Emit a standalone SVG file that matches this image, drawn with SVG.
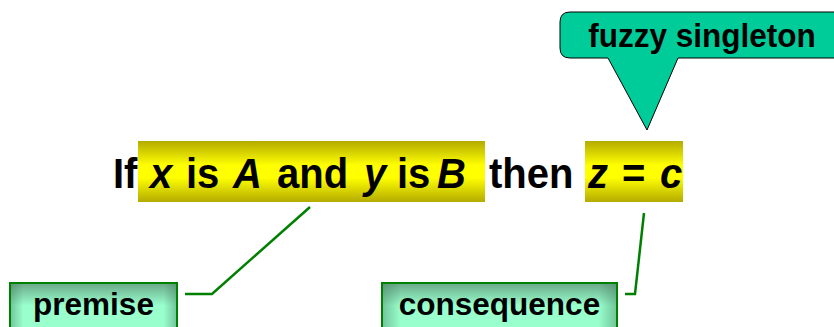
<svg xmlns="http://www.w3.org/2000/svg" width="834" height="327" viewBox="0 0 834 327">
<defs>
<linearGradient id="yel" x1="0" y1="0" x2="0" y2="1">
<stop offset="0" stop-color="#b3ab00"/>
<stop offset="0.4" stop-color="#ffff00"/>
<stop offset="0.6" stop-color="#ffff00"/>
<stop offset="1" stop-color="#b3ab00"/>
</linearGradient>
<linearGradient id="grnV" x1="0" y1="0" x2="0" y2="1">
<stop offset="0" stop-color="#6aa889"/>
<stop offset="0.45" stop-color="#99ffcc"/>
<stop offset="1" stop-color="#99ffcc"/>
</linearGradient>
<linearGradient id="grnH" x1="0" y1="0" x2="1" y2="0">
<stop offset="0" stop-color="#3f7a5c" stop-opacity="0.45"/>
<stop offset="0.08" stop-color="#3f7a5c" stop-opacity="0"/>
<stop offset="0.92" stop-color="#3f7a5c" stop-opacity="0"/>
<stop offset="1" stop-color="#3f7a5c" stop-opacity="0.45"/>
</linearGradient>
</defs>
<style>
text{font-family:"Liberation Sans",Arial,sans-serif;font-weight:bold;fill:#000}
.main{font-size:40px}
.it{font-style:italic}
.lbl{font-size:31.5px;text-anchor:middle}
.hl{fill:url(#yel)}
.box{fill:url(#grnV);stroke:none}
.boxs{fill:url(#grnH);stroke:#008000;stroke-width:2}
.conn{fill:none;stroke:#008000;stroke-width:2.5}
</style>

<g id="callout">
<path d="M570,12 H844 V58 H678 L647,130 L608,58 H570 Q560,58 560,48 V22 Q560,12 570,12 Z" fill="#00cc99" stroke="#000" stroke-width="1"/>
<text class="lbl" x="702" y="47" transform="translate(0,47) scale(1,1.05) translate(0,-47)">fuzzy singleton</text>
</g>

<g id="rule">
<rect class="hl" x="138" y="141" width="347" height="61"/>
<rect class="hl" x="585" y="141" width="98" height="61"/>
<text class="main" y="188" transform="translate(0,188) scale(1,1.06) translate(0,-188)"><tspan x="113">If</tspan><tspan class="it" x="150">x</tspan><tspan x="186">is</tspan><tspan class="it" x="233">A</tspan><tspan x="277">and</tspan><tspan class="it" x="364">y</tspan><tspan x="397">is</tspan><tspan class="it" x="437">B</tspan><tspan x="489">then</tspan><tspan class="it" x="588">z</tspan><tspan x="622">=</tspan><tspan class="it" x="660">c</tspan></text>
</g>

<g id="premise">
<rect class="box" x="10" y="283" width="167" height="50"/>
<rect class="boxs" x="10" y="283" width="167" height="50"/>
<text class="lbl" x="93.5" y="315">premise</text>
</g>

<g id="consequence">
<rect class="box" x="382" y="283" width="235" height="50"/>
<rect class="boxs" x="382" y="283" width="235" height="50"/>
<text class="lbl" x="499.5" y="315">consequence</text>
</g>

<g id="connectors">
<polyline class="conn" points="185,294 212,294 310,207"/>
<polyline class="conn" points="625,294 635,294 644,213"/>
</g>
</svg>
